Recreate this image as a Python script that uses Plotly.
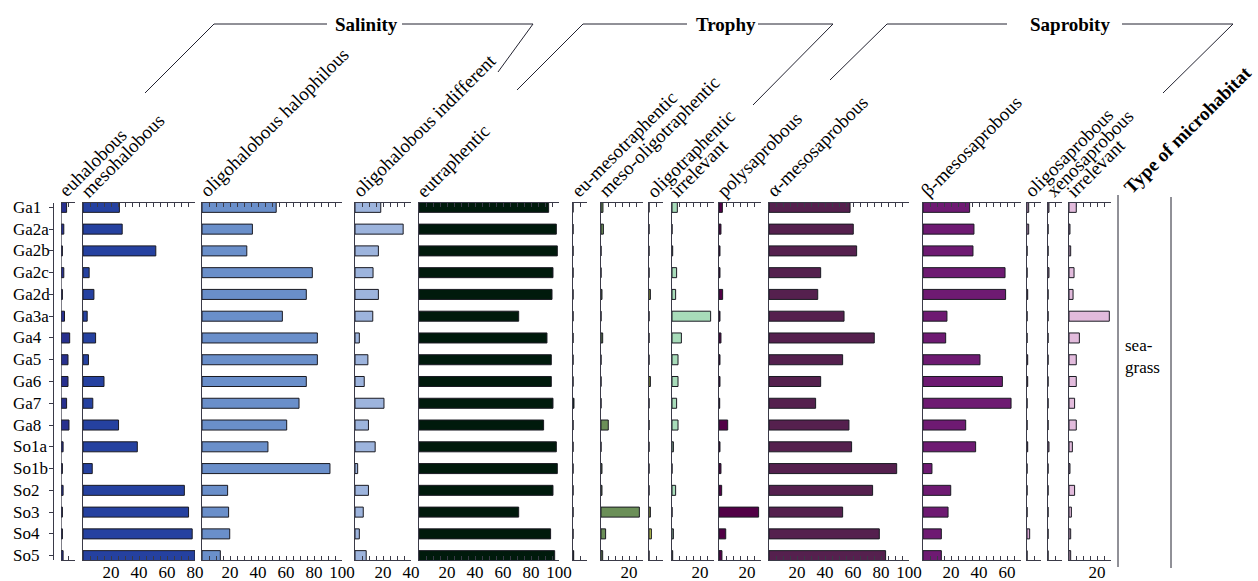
import plotly.graph_objects as go

# ---------------- data ----------------
samples = ["Ga1", "Ga2a", "Ga2b", "Ga2c", "Ga2d", "Ga3a", "Ga4", "Ga5", "Ga6",
           "Ga7", "Ga8", "So1a", "So1b", "So2", "So3", "So4", "So5"]

euhalobous = [4, 2, 1, 2, 1, 2.5, 6.2, 5, 5, 4, 5.7, 1.5, 1, 1.5, 1, 1, 1.5]
mesohalobous = [26, 28, 52, 4.4, 7.8, 3, 9, 3.9, 15, 7, 25.4, 38.8, 6.6, 72.4, 75.4, 78, 80]
oligohalobous_halophilous = [53, 36, 32, 78.8, 74.5, 57.4, 82.4, 82.4, 74.5, 69.3, 60.5,
                             47.1, 91.4, 18.3, 19, 19.8, 13.1]
oligohalobous_indifferent = [18.4, 34.4, 16.7, 12.9, 16.7, 12.7, 3.1, 9.2, 6.6, 20.7, 9.6,
                             14.4, 1.9, 9.6, 5.9, 3.1, 8]
eutraphentic = [92.6, 98.1, 98.8, 95.7, 95, 71.2, 91.4, 94.5, 94.5, 95.7, 89, 98.1, 98.8,
                95.7, 71.2, 94, 96.9]
eu_mesotraphentic = [0, 0, 0, 0, 0, 0, 0, 0, 0, 0.7, 0, 0, 0, 0, 0, 0, 0.5]
meso_oligotraphentic = [1.4, 1.7, 0, 0, 0.7, 0, 1.2, 0, 0, 0, 5.2, 0, 0.7, 0.7, 27.4, 3.3, 1.2]
oligotraphentic = [0, 0, 0, 0, 1, 0, 0, 0, 1, 0, 0, 0, 0, 0, 1, 1.7, 0]
trophy_irrelevant = [3.8, 0, 0.5, 3.3, 2.6, 27.6, 6.7, 4.3, 4.3, 3.3, 4.3, 1, 0, 2.6, 0, 1, 0.5]
polysaprobous = [2.4, 1.4, 0.7, 0.7, 2.6, 0.7, 1.4, 0.7, 0.7, 0.5, 6.2, 0.7, 1.4, 1.9, 28.3, 4.8, 2.1]
alpha_mesosaprobous = [57.9, 60.2, 62.6, 36.9, 34.8, 53.6, 75.2, 52.6, 36.9, 33.3, 57.1, 59,
                       91.2, 74, 52.6, 78.8, 83.3]
beta_mesosaprobous = [33.3, 36.4, 35.7, 58.6, 59, 17.1, 16.2, 40.7, 56.7, 62.9, 30.5, 37.6,
                      6.4, 19.8, 17.9, 13.1, 13.1]
oligosaprobous = [1.2, 1.2, 0, 0, 0.5, 0, 0, 0.5, 0.5, 0, 0, 0.5, 0, 0, 0, 1.9, 0]
xenosaprobous = [0.7, 0, 0, 0.7, 0, 0, 0, 0, 0, 0, 0, 0.7, 0, 0, 0, 0, 0]
saprobity_irrelevant = [5.2, 0.7, 1.2, 3.6, 2.9, 28.8, 7.4, 5.2, 5.2, 4, 5.2, 2.4, 0.7, 4, 1.7, 1.2, 1.2]

column_labels = ["euhalobous", "mesohalobous", "oligohalobous halophilous",
                 "oligohalobous indifferent", "eutraphentic", "eu-mesotraphentic",
                 "meso-oligotraphentic", "oligotraphentic", "irrelevant", "polysaprobous",
                 "α-mesosaprobous", "β-mesosaprobous", "oligosaprobous", "xenosaprobous",
                 "irrelevant"]
group_titles = ["Salinity", "Trophy", "Saprobity"]
habitat_title = "Type of microhabitat"
habitat_text = "sea-<br>grass"
tick_values = [20, 40, 60, 80, 100]

# ---------------- layout / style ----------------
W, H = 1258, 581
PX = 1.4          # pixels per percent unit
Y_TOP, Y_BOT = 203, 560
LINE = "#3a3a48"
FONT = "Liberation Serif"


def fx(p):
    return p / W


def fy(p):
    return 1 - p / H


series = [euhalobous, mesohalobous, oligohalobous_halophilous, oligohalobous_indifferent,
          eutraphentic, eu_mesotraphentic, meso_oligotraphentic, oligotraphentic,
          trophy_irrelevant, polysaprobous, alpha_mesosaprobous, beta_mesosaprobous,
          oligosaprobous, xenosaprobous, saprobity_irrelevant]
colors = ["#28308e", "#2541a0", "#6a8fca", "#9db4dd", "#001a0c", "#0c3a1c", "#6b8f58",
          "#b9c24e", "#a8dcba", "#520046", "#55204e", "#6e1a72", "#d9a9d4", "#d9a9d4",
          "#e2bbdc"]
ranges = [10, 80, 100, 40, 100, 10, 30, 10, 30, 30, 100, 70, 10, 10, 30]
x_starts = [61, 83, 202, 355, 419, 573, 601, 649, 672, 719, 769, 923, 1027, 1048, 1069]

fig = go.Figure()
ydom = [fy(Y_BOT), fy(Y_TOP)]

for i, (vals, col, rng, x0) in enumerate(zip(series, colors, ranges, x_starts), start=1):
    xa = "x" if i == 1 else f"x{i}"
    ya = "y" if i == 1 else f"y{i}"
    fig.add_trace(go.Bar(
        x=vals, y=samples, orientation="h", width=0.46,
        marker=dict(color=col, line=dict(color="#1a1a22", width=1)),
        xaxis=xa, yaxis=ya, hoverinfo="x+y"))
    tv = [t for t in tick_values if t <= rng]
    fig.layout[f"xaxis{i}"] = dict(
        domain=[fx(x0), fx(x0 + rng * PX)], range=[0, rng], anchor=ya,
        showline=True, linecolor=LINE, linewidth=1.3, mirror="ticks",
        ticks="inside", ticklen=4, tickcolor=LINE, tickwidth=1,
        tickmode="array", tickvals=tv, ticktext=[str(t) for t in tv],
        minor=dict(tickmode="linear", tick0=0, dtick=5, ticks="inside", ticklen=4,
                   tickcolor=LINE, tickwidth=1, showgrid=False),
        showgrid=False, zeroline=False, ticklabelstandoff=-4, automargin=False,
        tickfont=dict(family=FONT, size=17, color="black"))
    yax = dict(
        domain=ydom, type="category", categoryorder="array", categoryarray=samples,
        range=[16.2, -0.2], showgrid=False, zeroline=False, showticklabels=False,
        automargin=False)
    if i == 1:
        yax.update(anchor="free", position=fx(53), showline=True, linecolor=LINE,
                   linewidth=1.3, ticks="outside", ticklen=4, tickcolor=LINE)
    else:
        yax.update(anchor=xa, showline=True, linecolor=LINE, linewidth=1.3, ticks="")
    fig.layout[f"yaxis{i}"] = yax

shapes = []
# zero line of first panel (its y axis is moved left to carry the sample ticks)
shapes.append(dict(type="line", xref="x", yref="paper", x0=0, x1=0,
                   y0=ydom[0], y1=ydom[1], line=dict(color=LINE, width=1.3)))


def pl(x0, y0, x1, y1):
    shapes.append(dict(type="line", xref="paper", yref="paper",
                       x0=fx(x0), y0=fy(y0), x1=fx(x1), y1=fy(y1),
                       line=dict(color="#222230", width=1)))


# group headers
pl(145, 93, 214, 24); pl(214, 24, 327, 24); pl(402, 24, 533, 24); pl(533, 24, 498, 72)
pl(517, 90, 583, 24); pl(583, 24, 687, 24); pl(758, 24, 833, 24); pl(833, 24, 753, 105)
pl(830, 80, 887, 24); pl(887, 24, 1007, 24); pl(1122, 24, 1233, 24); pl(1233, 24, 1163, 93)
# microhabitat column
pl(1118, 195, 1118, 567); pl(1171, 197, 1171, 568)

annotations = []
for s in samples:
    annotations.append(dict(text=s, xref="paper", yref="y", x=fx(11), y=s,
                            xanchor="left", yanchor="middle", showarrow=False,
                            font=dict(family=FONT, size=17, color="black")))

for lab, x0 in zip(column_labels, x_starts):
    annotations.append(dict(text=lab, xref="paper", yref="paper",
                            x=fx(x0 - 9), y=fy(204), textangle=-45,
                            xanchor="left", yanchor="bottom", showarrow=False,
                            font=dict(family=FONT, size=19, color="black")))
annotations.append(dict(text="<b>" + habitat_title + "</b>", xref="paper", yref="paper",
                        x=fx(1127 - 10), y=fy(200), textangle=-45,
                        xanchor="left", yanchor="bottom", showarrow=False,
                        font=dict(family=FONT, size=19, color="black")))
for title, cx in zip(group_titles, [366, 726, 1070]):
    annotations.append(dict(text="<b>" + title + "</b>", xref="paper", yref="paper",
                            x=fx(cx), y=fy(24), xanchor="center", yanchor="middle",
                            showarrow=False, font=dict(family=FONT, size=19, color="black")))
annotations.append(dict(text=habitat_text, xref="paper", yref="paper",
                        x=fx(1123), y=fy(356), xanchor="left", yanchor="middle",
                        align="left", showarrow=False,
                        font=dict(family=FONT, size=17, color="black")))

fig.update_layout(width=W, height=H,
                  margin=dict(l=0, r=0, t=0, b=0, pad=0, autoexpand=False),
                  paper_bgcolor="white", plot_bgcolor="white", showlegend=False,
                  shapes=shapes, annotations=annotations,
                  font=dict(family=FONT, size=17, color="black"))

# remove the default page margin so the 1258x581 figure fills the window exactly
page_fix = ("document.documentElement.style.overflow='hidden';"
            "document.body.style.margin='0';document.body.style.overflow='hidden';")
fig.write_html("out.html", post_script=page_fix, config={"displayModeBar": False})
